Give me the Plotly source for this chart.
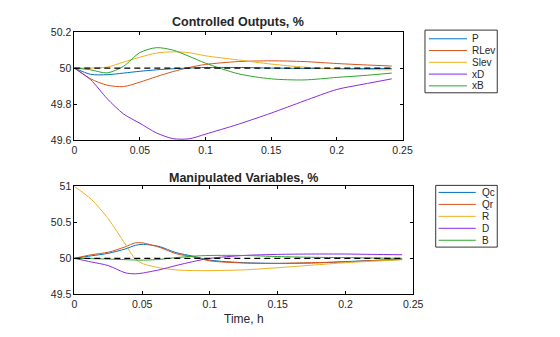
import plotly.graph_objects as go

W, H = 560, 337

# ---- Controlled outputs (top panel) ----
t_top = [0, 0.0125, 0.025, 0.0375, 0.05, 0.0625, 0.075, 0.0875, 0.1,
         0.125, 0.15, 0.175, 0.2, 0.22, 0.2418]
P = [50.0, 49.965, 49.963, 49.972, 49.982, 49.99, 49.996, 50.0, 50.003,
     50.003, 50.0, 49.998, 49.997, 49.997, 49.997]
RLev = [50.0, 49.94, 49.905, 49.897, 49.922, 49.952, 49.98, 50.003, 50.02,
        50.036, 50.04, 50.036, 50.025, 50.018, 50.011]
Slev = [50.0, 50.0, 50.005, 50.033, 50.06, 50.083, 50.09, 50.085, 50.068,
        50.045, 50.022, 50.005, 49.995, 49.992, 49.99]
xD = [50.0, 49.935, 49.83, 49.745, 49.693, 49.64, 49.608, 49.607, 49.633,
      49.688, 49.75, 49.817, 49.881, 49.91, 49.94]
xB = [50.0, 49.99, 49.973, 50.01, 50.086, 50.113, 50.1, 50.065, 50.027,
      49.968, 49.94, 49.934, 49.948, 49.958, 49.972]

# ---- Manipulated variables (bottom panel) ----
t_bot = [0, 0.0125, 0.025, 0.0375, 0.045, 0.05, 0.0625, 0.075, 0.0875, 0.1,
         0.125, 0.15, 0.175, 0.2, 0.22, 0.2418]
Qc = [50.0, 50.035, 50.07, 50.13, 50.18, 50.195, 50.165, 50.08, 50.03, 49.975,
      49.94, 49.93, 49.935, 49.955, 49.97, 49.985]
Qr = [50.0, 50.05, 50.085, 50.16, 50.215, 50.215, 50.155, 50.065, 50.02, 49.965,
      49.935, 49.93, 49.94, 49.95, 49.97, 49.99]
R = [51.0, 50.82, 50.55, 50.2, 49.99, 49.93, 49.87, 49.84, 49.83, 49.83,
     49.84, 49.87, 49.905, 49.94, 49.96, 49.98]
D = [50.0, 49.95, 49.9, 49.8, 49.785, 49.795, 49.84, 49.9, 49.955, 50.0,
     50.04, 50.055, 50.06, 50.06, 50.055, 50.05]
B = [50.0, 49.995, 49.99, 49.982, 49.977, 49.975, 49.985, 50.01, 50.03, 50.04,
     50.04, 50.025, 50.015, 50.01, 50.005, 50.0]

setpoint = 50.0

top_names = ["P", "RLev", "Slev", "xD", "xB"]
bot_names = ["Qc", "Qr", "R", "D", "B"]
colors = ["#0072BD", "#D95319", "#EDB120", "#8A2BE2", "#2EA52A"]

x_ticks = [0, 0.05, 0.1, 0.15, 0.2, 0.25]
x_tick_text = ["0", "0.05", "0.1", "0.15", "0.2", "0.25"]
top_y_ticks = [49.6, 49.8, 50, 50.2]
top_y_text = ["49.6", "49.8", "50", "50.2"]
bot_y_ticks = [49.5, 50, 50.5, 51]
bot_y_text = ["49.5", "50", "50.5", "51"]

FONT = "Liberation Sans, Arial, Helvetica, sans-serif"
TXT = "#262626"


def px(x):
    return x / W


def py(y):
    return 1 - y / H


fig = go.Figure()

for name, vals, c in zip(top_names, [P, RLev, Slev, xD, xB], colors):
    fig.add_trace(go.Scatter(x=t_top, y=vals, name=name, mode="lines",
                             line=dict(color=c, width=1, shape="spline", smoothing=0.8),
                             xaxis="x", yaxis="y", showlegend=False))
fig.add_trace(go.Scatter(x=[t_top[0], t_top[-1]], y=[setpoint, setpoint], mode="lines",
                         line=dict(color="black", width=1.2, dash="6px,4px"),
                         xaxis="x", yaxis="y", showlegend=False))

for name, vals, c in zip(bot_names, [Qc, Qr, R, D, B], colors):
    fig.add_trace(go.Scatter(x=t_bot, y=vals, name=name, mode="lines",
                             line=dict(color=c, width=1, shape="spline", smoothing=0.8),
                             xaxis="x2", yaxis="y2", showlegend=False))
fig.add_trace(go.Scatter(x=[t_bot[0], t_bot[-1]], y=[setpoint, setpoint], mode="lines",
                         line=dict(color="black", width=1.2, dash="6px,4px"),
                         xaxis="x2", yaxis="y2", showlegend=False))

axis_common = dict(showline=True, linecolor="black", linewidth=0.8, mirror="ticks",
                   ticks="inside", ticklen=3, tickcolor="black", tickwidth=0.8,
                   showgrid=False, zeroline=False,
                   tickfont=dict(family=FONT, size=10.5, color=TXT))

fig.update_layout(
    width=W, height=H,
    margin=dict(l=0, r=0, t=0, b=0),
    paper_bgcolor="white", plot_bgcolor="white",
    xaxis=dict(domain=[px(73), px(409)], range=[0, 0.25], tickvals=x_ticks,
               ticktext=x_tick_text, anchor="y", **axis_common),
    yaxis=dict(domain=[py(139), py(27)], range=[49.6, 50.2], tickvals=top_y_ticks,
               ticktext=top_y_text, anchor="x", **axis_common),
    xaxis2=dict(domain=[px(73), px(420)], range=[0, 0.25], tickvals=x_ticks,
                ticktext=x_tick_text, anchor="y2", **axis_common),
    yaxis2=dict(domain=[py(299), py(187)], range=[49.5, 51], tickvals=bot_y_ticks,
                ticktext=bot_y_text, anchor="x2", **axis_common),
)

annotations = [
    dict(text="<b>Controlled Outputs, %</b>", x=px(241), y=py(17), xref="paper",
         yref="paper", xanchor="center", yanchor="middle", showarrow=False,
         font=dict(family=FONT, size=12.5, color=TXT)),
    dict(text="<b>Manipulated Variables, %</b>", x=px(246.5), y=py(178), xref="paper",
         yref="paper", xanchor="center", yanchor="middle", showarrow=False,
         font=dict(family=FONT, size=12.5, color=TXT)),
    dict(text="Time, h", x=px(246.5), y=py(325), xref="paper", yref="paper",
         xanchor="center", yanchor="middle", showarrow=False,
         font=dict(family=FONT, size=12, color=TXT)),
]
shapes = []


def add_legend(names, box, line_x, text_x, first_y, step):
    x0, y0, x1, y1 = box
    shapes.append(dict(type="rect", xref="paper", yref="paper",
                       x0=px(x0), x1=px(x1), y0=py(y1), y1=py(y0),
                       line=dict(color="black", width=0.8), fillcolor="white"))
    for i, (n, c) in enumerate(zip(names, colors)):
        yy = first_y + i * step
        shapes.append(dict(type="line", xref="paper", yref="paper",
                           x0=px(line_x[0]), x1=px(line_x[1]), y0=py(yy), y1=py(yy),
                           line=dict(color=c, width=1)))
        annotations.append(dict(text=n, x=px(text_x), y=py(yy), xref="paper",
                                yref="paper", xanchor="left", yanchor="middle",
                                showarrow=False,
                                font=dict(family=FONT, size=10, color=TXT)))


add_legend(top_names, (432, 25, 506, 90), (436, 475), 478, 34, 12.2)
add_legend(bot_names, (443, 186, 506, 250), (446, 484), 488, 193.3, 12.4)

fig.update_layout(annotations=annotations, shapes=shapes)

fig.write_html("out.html")
